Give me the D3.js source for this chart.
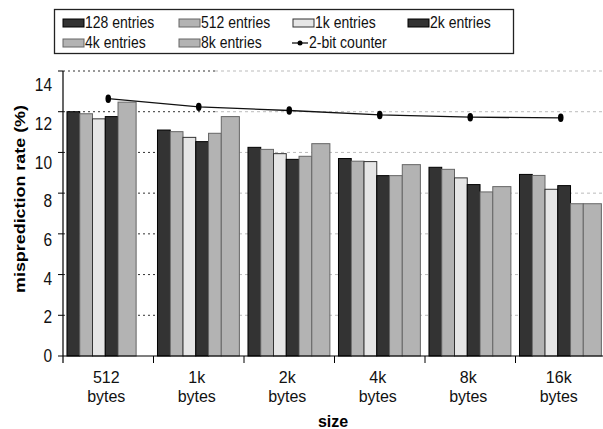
<!DOCTYPE html>
<html>
<head>
<meta charset="utf-8">
<script src="https://cdn.jsdelivr.net/npm/d3@7"></script>
<style>
  body { margin: 0; background: #fff; }
  svg { font-family: "Liberation Sans", Arial, sans-serif; }
</style>
</head>
<body>
<svg id="chart" width="603" height="429"></svg>
<script>
// data
var sizes = ['512', '1k', '2k', '4k', '8k', '16k'];
var entryNames = ['128 entries', '512 entries', '1k entries', '2k entries', '4k entries', '8k entries'];
var e128 = [12.0, 11.1, 10.25, 9.7, 9.27, 8.92];
var e512 = [11.9, 11.02, 10.15, 9.57, 9.17, 8.87];
var e1k  = [11.65, 10.74, 9.94, 9.55, 8.75, 8.19];
var e2k  = [11.76, 10.53, 9.66, 8.86, 8.42, 8.37];
var e4k  = [null, 10.94, 9.81, 8.86, 8.06, 7.48];
var e8k  = [12.47, 11.76, 10.43, 9.4, 8.32, 7.48];
var counter = [12.64, 12.24, 12.06, 11.84, 11.73, 11.7];
var yTicks = [0, 2, 4, 6, 8, 10, 12, 14];

var series = [e128, e512, e1k, e2k, e4k, e8k];
var fills = ['#333333', '#b3b3b3', '#e6e6e6', '#333333', '#b3b3b3', '#b3b3b3'];
var strokes = ['#000', '#666', '#333', '#000', '#666', '#666'];

var svg = d3.select('#chart');

var x = d3.scaleBand().domain(sizes).range([63, 606]).padding(0);
var y = d3.scaleLinear().domain([0, 14]).range([356, 71]);
// tick labels sit on a slightly squashed scale in the original
var yLab = d3.scaleLinear().domain([0, 14]).range([355.5, 85]);

var bw = x.bandwidth();
var inset = bw * 0.044, barW = bw * 0.141, lastW = bw * 0.2;

// gridlines
yTicks.filter(function(t) { return t > 0; }).forEach(function(t) {
  svg.append('line')
    .attr('x1', 63).attr('x2', 215).attr('y1', y(t)).attr('y2', y(t))
    .attr('stroke', '#333').attr('stroke-width', 1).attr('stroke-dasharray', '2,3');
  svg.append('line')
    .attr('x1', 215).attr('x2', 603).attr('y1', y(t)).attr('y2', y(t))
    .attr('stroke', '#bbb').attr('stroke-width', 1).attr('stroke-dasharray', '3,3');
});

// bars
var bars = [];
sizes.forEach(function(s, gi) {
  var slot = 0;
  series.forEach(function(arr, si) {
    var v = arr[gi];
    if (v === null) { return; }
    bars.push({ size: s, si: si, v: v, slot: slot });
    slot++;
  });
});

svg.append('g').selectAll('rect')
  .data(bars)
  .enter().append('rect')
  .attr('x', function(d) { return x(d.size) + inset + d.slot * barW; })
  .attr('width', function(d) { return d.si === 5 ? lastW : barW; })
  .attr('y', function(d) { return y(d.v); })
  .attr('height', function(d) { return y(0) - y(d.v); })
  .attr('fill', function(d) { return fills[d.si]; })
  .attr('stroke', function(d) { return strokes[d.si]; })
  .attr('stroke-width', 1);

// 2-bit counter line
var line = d3.line()
  .x(function(d, i) { return x(sizes[i]) + bw / 2; })
  .y(function(d) { return y(d); });

svg.append('path')
  .datum(counter)
  .attr('d', line)
  .attr('fill', 'none')
  .attr('stroke', '#111')
  .attr('stroke-width', 1.3);

svg.append('g').selectAll('ellipse')
  .data(counter)
  .enter().append('ellipse')
  .attr('cx', function(d, i) { return x(sizes[i]) + bw / 2; })
  .attr('cy', function(d) { return y(d); })
  .attr('rx', 2.8).attr('ry', 4.2)
  .attr('fill', '#000');

// axes
svg.append('line')
  .attr('x1', 63).attr('x2', 63).attr('y1', y(14)).attr('y2', y(0) + 7)
  .attr('stroke', '#000').attr('stroke-width', 1.2);
svg.append('line')
  .attr('x1', 63).attr('x2', 603).attr('y1', y(0)).attr('y2', y(0))
  .attr('stroke', '#000').attr('stroke-width', 1.2);

yTicks.forEach(function(t) {
  svg.append('line')
    .attr('x1', 58).attr('x2', 63).attr('y1', y(t)).attr('y2', y(t))
    .attr('stroke', '#000').attr('stroke-width', 1);
  svg.append('text')
    .attr('transform', 'translate(52,' + yLab(t) + ') scale(1,1.18)')
    .attr('text-anchor', 'end')
    .attr('dy', '0.35em')
    .attr('font-size', 15.5)
    .attr('fill', '#111')
    .text(t);
});

sizes.forEach(function(s, i) {
  if (i > 0) {
    svg.append('line')
      .attr('x1', x(s)).attr('x2', x(s)).attr('y1', y(0)).attr('y2', y(0) + 7)
      .attr('stroke', '#000').attr('stroke-width', 1);
  }
  var cx = x(s) + bw / 2 - 2;
  svg.append('text').attr('x', cx).attr('y', 383)
    .attr('text-anchor', 'middle').attr('font-size', 16).attr('fill', '#111').text(s);
  svg.append('text').attr('x', cx).attr('y', 401.5)
    .attr('text-anchor', 'middle').attr('font-size', 16).attr('fill', '#111').text('bytes');
});

svg.append('text')
  .attr('x', 333).attr('y', 427)
  .attr('text-anchor', 'middle')
  .attr('font-size', 16).attr('font-weight', 'bold')
  .text('size');

svg.append('text')
  .attr('transform', 'translate(25,199) rotate(-90) scale(1.28,1)')
  .attr('text-anchor', 'middle')
  .attr('font-size', 14).attr('font-weight', 'bold')
  .text('misprediction rate (%)');

// legend
svg.append('rect')
  .attr('x', 54.5).attr('y', 9.5).attr('width', 459).attr('height', 44)
  .attr('fill', '#fff').attr('stroke', '#222').attr('stroke-width', 1.3);

var legX = [63, 179, 293, 408, 63, 179];
var legY = [19, 19, 19, 19, 39, 39];
entryNames.forEach(function(n, i) {
  svg.append('rect')
    .attr('x', legX[i]).attr('y', legY[i]).attr('width', 21).attr('height', 8)
    .attr('fill', fills[i]).attr('stroke', strokes[i]).attr('stroke-width', 1);
  svg.append('text')
    .attr('transform', 'translate(' + (legX[i] + 22) + ',' + (legY[i] + 8.7) + ') scale(1,1.15)')
    .attr('font-size', 14).attr('fill', '#111')
    .text(n);
});

svg.append('line')
  .attr('x1', 292).attr('x2', 308).attr('y1', 43).attr('y2', 43)
  .attr('stroke', '#000').attr('stroke-width', 1.2);
svg.append('circle').attr('cx', 300).attr('cy', 43).attr('r', 2.5).attr('fill', '#000');
svg.append('text')
  .attr('transform', 'translate(309,47.7) scale(1,1.15)')
  .attr('font-size', 14).attr('fill', '#111')
  .text('2-bit counter');
</script>
</body>
</html>
